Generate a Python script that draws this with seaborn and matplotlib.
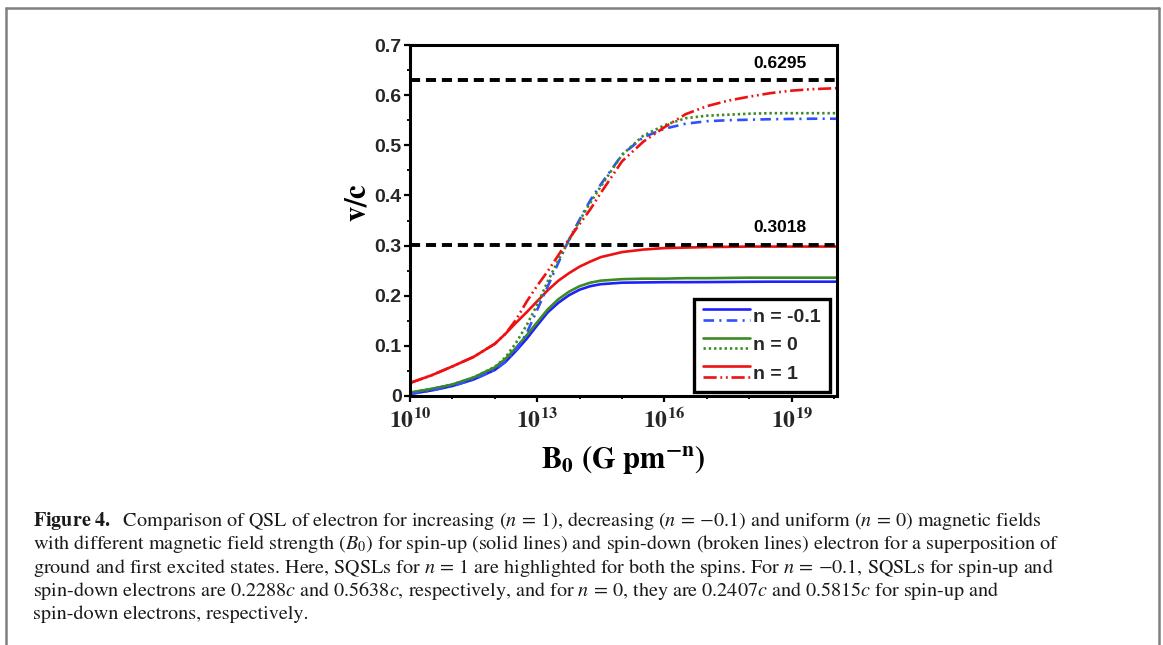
import numpy as np
import matplotlib
matplotlib.use("Agg")
import matplotlib.pyplot as plt
import seaborn as sns
from matplotlib.lines import Line2D
from matplotlib.legend_handler import HandlerBase
from matplotlib.ticker import FixedLocator, NullFormatter

# exponents of B0 (G pm^-n)
log_b = [10, 10.5, 11, 11.5, 12, 12.25, 12.5, 12.75, 13, 13.25, 13.5, 13.75,
         14, 14.25, 14.5, 15, 15.5, 16, 16.5, 17, 17.5, 18, 18.5, 19, 19.5, 20.1]

# spin-up (solid)
up_m01 = [0.004, 0.011, 0.020, 0.033, 0.052, 0.068, 0.090, 0.114, 0.141, 0.167, 0.186, 0.201,
          0.212, 0.219, 0.223, 0.226, 0.2265, 0.227, 0.227, 0.2272, 0.2275, 0.2278, 0.228, 0.228, 0.228, 0.228]
up_0 = [0.007, 0.014, 0.023, 0.037, 0.057, 0.074, 0.096, 0.121, 0.147, 0.173, 0.193, 0.208,
        0.219, 0.226, 0.230, 0.233, 0.234, 0.234, 0.235, 0.235, 0.2355, 0.236, 0.236, 0.236, 0.236, 0.236]
up_1 = [0.026, 0.041, 0.059, 0.078, 0.104, 0.124, 0.146, 0.167, 0.189, 0.211, 0.230, 0.245,
        0.258, 0.268, 0.277, 0.287, 0.292, 0.295, 0.296, 0.297, 0.2975, 0.298, 0.298, 0.298, 0.298, 0.298]

# spin-down (broken)
down_m01 = [0.004, 0.011, 0.020, 0.033, 0.052, 0.068, 0.092, 0.125, 0.172, 0.219, 0.266, 0.312,
            0.352, 0.390, 0.422, 0.481, 0.516, 0.533, 0.543, 0.548, 0.550, 0.551, 0.552, 0.5525, 0.553, 0.553]
down_0 = [0.007, 0.014, 0.023, 0.037, 0.058, 0.077, 0.106, 0.141, 0.182, 0.229, 0.271, 0.310,
          0.350, 0.385, 0.418, 0.481, 0.519, 0.540, 0.554, 0.559, 0.561, 0.563, 0.564, 0.564, 0.564, 0.564]
down_1 = [0.026, 0.041, 0.059, 0.078, 0.104, 0.124, 0.152, 0.188, 0.220, 0.249, 0.281, 0.313,
          0.343, 0.372, 0.405, 0.468, 0.507, 0.536, 0.562, 0.578, 0.589, 0.597, 0.604, 0.609, 0.612, 0.614]

sqsl_limits = [0.6295, 0.3018]
legend_labels = ["n = -0.1", "n = 0", "n = 1"]

b_field = np.power(10.0, log_b)

sns.set_theme(style="ticks")
plt.rcParams["font.family"] = ["Liberation Sans", "DejaVu Sans"]
plt.rcParams["mathtext.fontset"] = "stix"

W, H = 1163, 645
fig = plt.figure(figsize=(W / 100, H / 100), dpi=100)
ax = fig.add_axes([410 / W, 1 - 396 / H, 427 / W, 351 / H])

blue, green, red = "#1f1fff", "#3b8a24", "#ee1111"
lw = 1.9

sns.lineplot(x=b_field, y=up_m01, ax=ax, color=blue, lw=lw)
l_up_m01 = ax.lines[-1]
sns.lineplot(x=b_field, y=up_0, ax=ax, color=green, lw=lw)
l_up_0 = ax.lines[-1]
sns.lineplot(x=b_field, y=up_1, ax=ax, color=red, lw=lw)
l_up_1 = ax.lines[-1]
sns.lineplot(x=b_field, y=down_m01, ax=ax, color="#3050ff", lw=lw, linestyle=(0, (4, 2, 0.8, 2)))
l_dn_m01 = ax.lines[-1]
sns.lineplot(x=b_field, y=down_0, ax=ax, color=green, lw=lw, linestyle=(0, (0.9, 1.1)))
l_dn_0 = ax.lines[-1]
sns.lineplot(x=b_field, y=down_1, ax=ax, color=red, lw=lw, linestyle=(0, (5, 1.4, 0.7, 1.4, 0.7, 1.4)))
l_dn_1 = ax.lines[-1]

for val in sqsl_limits:
    ax.axhline(val, color="black", lw=2.8, linestyle=(0, (2.6, 1.5)), zorder=5)
    ax.text(0.866, val + 0.034, f"{val:.4f}", transform=ax.get_yaxis_transform(),
            ha="center", va="center", fontsize=12.5, fontweight="bold", color="black")

ax.set_xscale("log")
ax.set_xlim(1e10, 10 ** 20.07)
ax.set_ylim(0, 0.7)

majors = [1e10, 1e13, 1e16, 1e19]
ax.xaxis.set_major_locator(FixedLocator(majors))
ax.xaxis.set_minor_locator(FixedLocator([10.0 ** k for k in range(10, 21) if k % 3 != 1]))
ax.xaxis.set_minor_formatter(NullFormatter())
ax.set_xticklabels([r"$\mathbf{10^{10}}$", r"$\mathbf{10^{13}}$",
                    r"$\mathbf{10^{16}}$", r"$\mathbf{10^{19}}$"], fontsize=17)
ax.set_yticks(np.arange(0, 0.71, 0.1))
ax.set_yticklabels(["0", "0.1", "0.2", "0.3", "0.4", "0.5", "0.6", "0.7"],
                   fontsize=14, fontweight="bold")
ax.yaxis.set_minor_locator(FixedLocator(np.arange(0.05, 0.7, 0.1)))
ax.tick_params(axis="both", which="major", direction="out", length=4.5, width=1.6,
               color="black", pad=1.5)
ax.tick_params(axis="x", which="major", pad=4)
ax.tick_params(axis="both", which="minor", direction="out", length=2.5, width=1.3, color="black")
for sp in ax.spines.values():
    sp.set_linewidth(2.2)
    sp.set_color("black")

ax.set_xlabel(r"$\mathbf{B_0\ (G\ pm^{-n})}$", fontsize=22, color="black")
ax.xaxis.set_label_coords(0.5, -0.135)
ax.set_ylabel(r"$\mathbf{v/c}$", fontsize=22, color="black", va="center")
ax.yaxis.set_label_coords(-0.122, 0.55)


class HandlerStacked(HandlerBase):
    def create_artists(self, legend, orig_handle, xdescent, ydescent, width, height, fontsize, trans):
        segs = []
        for line, frac in zip(orig_handle, (0.95, 0.15)):
            y = -ydescent + height * frac
            seg = Line2D([-xdescent, -xdescent + width], [y, y])
            seg.update_from(line)
            seg.set_transform(trans)
            segs.append(seg)
        return segs


leg = ax.legend(handles=[(l_up_m01, l_dn_m01), (l_up_0, l_dn_0), (l_up_1, l_dn_1)],
                labels=legend_labels, handler_map={tuple: HandlerStacked()},
                loc="lower right", bbox_to_anchor=(0.984, 0.01), borderaxespad=0,
                prop={"size": 14, "weight": "bold"}, handlelength=2.4, handletextpad=0.15,
                labelspacing=0.55, borderpad=0.5, fancybox=False, framealpha=1,
                edgecolor="black")
leg.get_frame().set_linewidth(2.4)
leg.set_zorder(10)

# caption
caption = [
    r"$\mathbf{Figure\ 4.}$  Comparison of QSL of electron for increasing ($n\,=\,1$), decreasing ($n\,=\,{-}0.1$) and uniform ($n\,=\,0$) magnetic fields",
    r"with different magnetic field strength ($B_0$) for spin-up (solid lines) and spin-down (broken lines) electron for a superposition of",
    r"ground and first excited states. Here, SQSLs for $n\,=\,1$ are highlighted for both the spins. For $n\,=\,{-}0.1$, SQSLs for spin-up and",
    r"spin-down electrons are 0.2288$c$ and 0.5638$c$, respectively, and for $n\,=\,0$, they are 0.2407$c$ and 0.5815$c$ for spin-up and",
    "spin-down electrons, respectively.",
]
for i, line in enumerate(caption):
    fig.text(33 / W, 1 - (526 + 23.3 * i) / H, line, family="STIXGeneral",
             fontsize=14.5, ha="left", va="baseline", color="#1a1a1a")

# frame around figure
border = "#808080"
fig.add_artist(Line2D([6 / W, 6 / W], [0, 1 - 8 / H], color=border, lw=1.8, transform=fig.transFigure))
fig.add_artist(Line2D([1159 / W, 1159 / W], [0, 1 - 8 / H], color=border, lw=1.8, transform=fig.transFigure))
fig.add_artist(Line2D([6 / W, 1159 / W], [1 - 8 / H, 1 - 8 / H], color=border, lw=1.8, transform=fig.transFigure))

fig.savefig("out.png", dpi=100)
